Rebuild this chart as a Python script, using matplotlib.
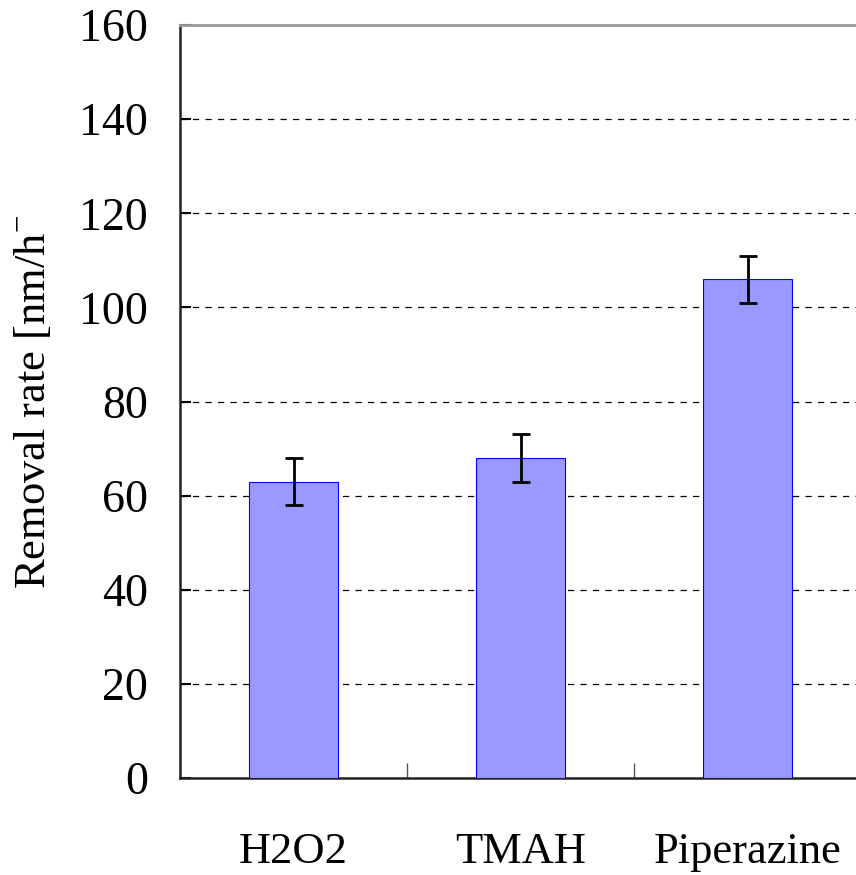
import numpy as np
import matplotlib.pyplot as plt

# data
categories = ["H2O2", "TMAH", "Piperazine"]
removal_rate = [63, 68, 106]
rate_err = [5, 5, 5]

plt.rcParams['font.family'] = ['Liberation Serif', 'DejaVu Serif']
plt.rcParams['mathtext.fontset'] = 'custom'
plt.rcParams['mathtext.rm'] = 'Liberation Serif'

fig = plt.figure(figsize=(8.56, 8.75), dpi=100)
ax = fig.add_axes([180 / 856, 1 - 778 / 875, 681 / 856, 753 / 875])

x = np.arange(len(categories))
ax.bar(x, removal_rate, width=0.39, color='#9999ff', edgecolor='#0000ff',
       linewidth=0.8, zorder=3)
ax.errorbar(x, removal_rate, yerr=rate_err, fmt='none', ecolor='black',
            elinewidth=2, capsize=6.5, capthick=2, zorder=4)

ax.set_xlim(-0.5, 2.5)
ax.set_ylim(0, 160)
ax.set_yticks(np.arange(0, 161, 20))
for y in np.arange(20, 160, 20):
    ax.axhline(y, color='black', linestyle=(0, (5, 5)), linewidth=0.9, zorder=1)

ax.set_xticks(x)
ax.set_xticklabels(categories, fontsize=32)
ax.set_xticks([0.5, 1.5], minor=True)
ax.tick_params(axis='x', which='major', length=0, pad=39)
ax.tick_params(axis='x', which='minor', direction='in', length=11, width=1,
               color='#555555')
ax.tick_params(axis='y', direction='in', length=8, width=1.5, labelsize=33, pad=23)

ax.set_ylabel("Removal rate [nm/h$^{-}$", fontsize=32, labelpad=18)

ax.spines['left'].set_linewidth(1.8)
ax.spines['left'].set_color('#222222')
ax.spines['bottom'].set_linewidth(1.8)
ax.spines['bottom'].set_color('#222222')
ax.spines['top'].set_linewidth(2)
ax.spines['top'].set_color('#999999')
ax.spines['right'].set_visible(False)

fig.savefig('out.png', dpi=100)
